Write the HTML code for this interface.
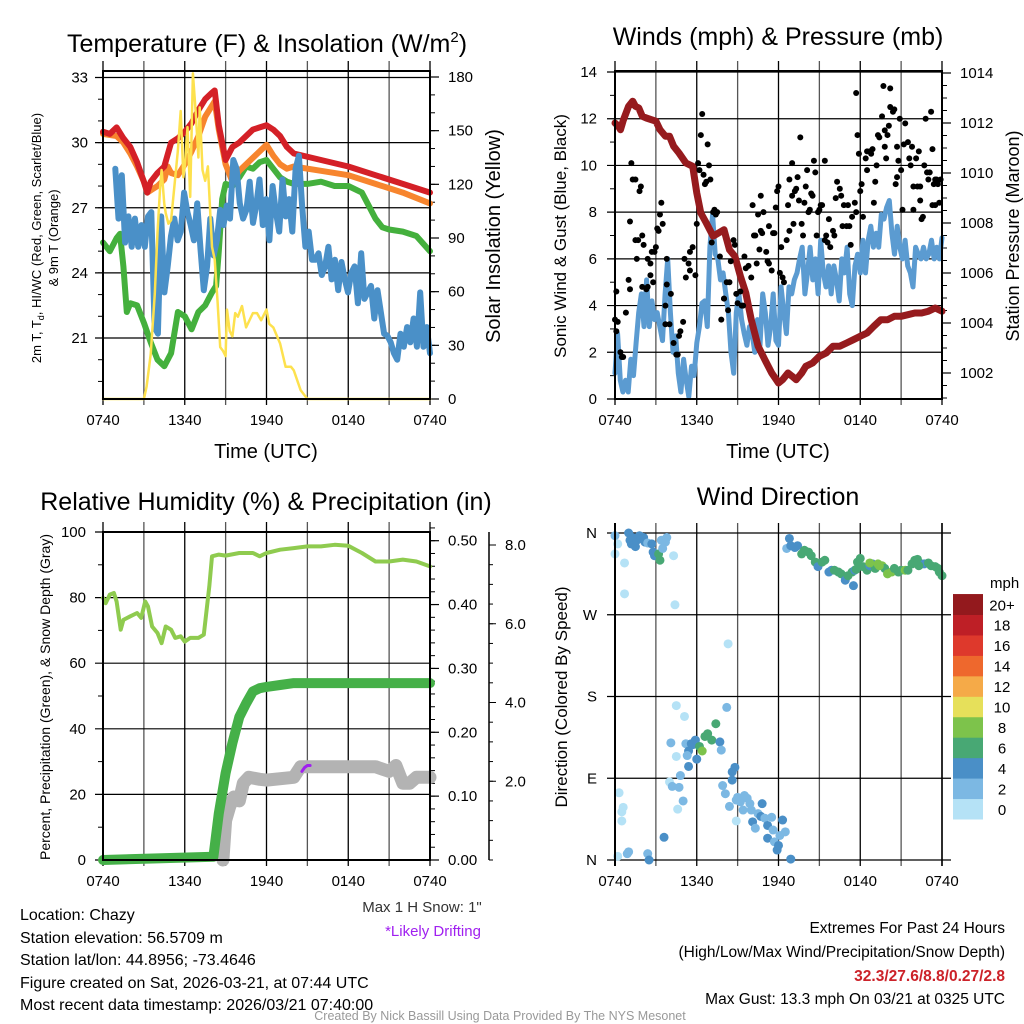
<!DOCTYPE html>
<html><head><meta charset="utf-8"><style>
html,body{margin:0;padding:0;background:#fff;}
svg{display:block;font-family:"Liberation Sans",sans-serif;}
</style></head><body>
<svg id="s" width="1024" height="1024" viewBox="0 0 1024 1024" xmlns="http://www.w3.org/2000/svg">
<rect width="1024" height="1024" fill="#fff"/>
<!-- titles -->
<text x="267" y="52" font-size="25" text-anchor="middle">Temperature (F) &amp; Insolation (W/m<tspan font-size="15" dy="-10">2</tspan><tspan dy="10">)</tspan></text>
<text x="778" y="45" font-size="25" text-anchor="middle">Winds (mph) &amp; Pressure (mb)</text>
<text x="266" y="510" font-size="25" text-anchor="middle">Relative Humidity (%) &amp; Precipitation (in)</text>
<text x="778" y="505" font-size="25" text-anchor="middle">Wind Direction</text>
<!-- axis titles -->
<text x="266" y="458" font-size="20" text-anchor="middle">Time (UTC)</text>
<text x="778" y="458" font-size="20" text-anchor="middle">Time (UTC)</text>
<g font-size="13" text-anchor="middle">
<text transform="translate(41,238) rotate(-90)">2m T, T<tspan font-size="9" dy="3">d</tspan><tspan dy="-3">, HI/WC (Red, Green, Scarlet/Blue)</tspan></text>
<text transform="translate(58,238) rotate(-90)">&amp; 9m T (Orange)</text>
</g>
<text transform="translate(500,236) rotate(-90)" font-size="20" text-anchor="middle">Solar Insolation (Yellow)</text>
<text transform="translate(566,236) rotate(-90)" font-size="17" text-anchor="middle">Sonic Wind &amp; Gust (Blue, Black)</text>
<text transform="translate(1019,236) rotate(-90)" font-size="18" text-anchor="middle">Station Pressure (Maroon)</text>
<text transform="translate(50,697) rotate(-90)" font-size="14" text-anchor="middle">Percent, Precipitation (Green), &amp; Snow Depth (Gray)</text>
<text transform="translate(567,697) rotate(-90)" font-size="17" text-anchor="middle">Direction (Colored By Speed)</text>
<!-- footer texts -->
<g font-size="16">
<text x="20" y="920">Location: Chazy</text>
<text x="20" y="943">Station elevation: 56.5709 m</text>
<text x="20" y="965">Station lat/lon: 44.8956; -73.4646</text>
<text x="20" y="988">Figure created on Sat, 2026-03-21, at 07:44 UTC</text>
<text x="20" y="1010">Most recent data timestamp: 2026/03/21 07:40:00</text>
</g>
<text x="422" y="912" font-size="15" text-anchor="middle" fill="#333">Max 1 H Snow: 1"</text>
<text x="433" y="936" font-size="15" text-anchor="middle" fill="#a020f0">*Likely Drifting</text>
<g font-size="15.5" text-anchor="end">
<text x="1005" y="933">Extremes For Past 24 Hours</text>
<text x="1005" y="957">(High/Low/Max Wind/Precipitation/Snow Depth)</text>
<text x="1005" y="981" fill="#cc2229" font-weight="bold">32.3/27.6/8.8/0.27/2.8</text>
<text x="1005" y="1004">Max Gust: 13.3 mph On 03/21 at 0325 UTC</text>
</g>
<text x="500" y="1020" font-size="12.5" fill="#999" text-anchor="middle">Created By Nick Bassill Using Data Provided By The NYS Mesonet</text>
</svg>
<script>
// ---------- DATA ----------
const xTickLabels = ["0740","1340","1940","0140","0740"];
const tempTicks = [21,24,27,30,33];
const solarTicks = [0,30,60,90,120,150,180];
const windTicks = [0,2,4,6,8,10,12,14];
const presTicks = [1002,1004,1006,1008,1010,1012,1014];
const rhTicks = [0,20,40,60,80,100];
const precipTicks = [0,0.1,0.2,0.3,0.4,0.5];
const snowTicks = [2,4,6,8];
const dirLabels = ["N","E","S","W","N"];
const dirTicks = [0,90,180,270,360];

const redT = [0,0.5,1,1.5,2,2.5,3,3.25,3.5,4,4.5,5,5.5,6,6.5,7,7.5,8,8.2,8.5,9,9.5,10,10.5,11,11.5,12,12.5,13,13.5,14,16,18,20,22,24];
const redV = [30.5,30.4,30.7,30.2,29.8,29.1,28.2,27.7,28.2,28.6,28.9,30,30.2,30.5,30.9,31.5,32,32.3,32.4,30.8,29.2,29.8,30,30.3,30.6,30.7,30.8,30.6,30.3,29.8,29.5,29.2,28.9,28.5,28.1,27.7];
const orgT = [0,1,1.5,2,2.5,3,3.25,3.5,4,4.5,4.75,5,5.5,6,6.5,7,7.5,8,8.2,8.5,9,9.5,10,10.5,11,11.5,12,12.5,13,13.5,14,16,18,20,22,24];
const orgV = [30.4,30.3,30.0,29.5,28.9,28.2,27.7,27.8,28.0,28.3,28.9,28.6,28.5,29.0,29.6,30.3,31.2,31.7,31.9,30.6,29.0,28.2,28.7,29.0,29.3,29.6,29.9,29.4,29.0,28.8,28.9,28.7,28.5,28.1,27.7,27.2];
const grnT = [0,0.5,1,1.25,1.5,1.75,2,2.5,3,3.5,4,4.5,5,5.5,6,6.5,7,7.5,8,8.3,8.5,8.75,9,9.5,10,10.5,11,11.5,12,12.5,13,13.5,14,15,16,17,18,19,19.5,20,20.5,21,22,23,24];
const grnV = [25.4,25.0,25.6,25.8,24.3,22.2,22.6,22.5,21.7,20.8,20.0,19.7,20.3,22.2,22.0,21.4,22.2,22.5,23.1,23.4,25.0,27.4,28.1,28.0,28.4,28.9,28.8,29.1,29.2,28.8,28.4,28.2,28.1,28.1,28.2,28.0,28.0,27.7,27.1,26.5,26.1,26.0,25.9,25.7,25.0];
const hiwcStart = 0.9;
const hiwcV = [28.8,26.5,28.5,25.4,26.6,25.2,26.5,25.2,26.2,25.2,26.6,26.8,21.5,21.2,26.6,23.1,24.3,25.7,26.5,25.5,25.9,27.7,26.8,26.2,25.5,27.2,25.1,23.2,24.3,26.5,24.8,25.5,26.9,26.2,27.1,26.5,29.2,28.8,27.2,26.5,26.9,28.2,26.3,27.1,28.3,26.2,27.4,25.5,28.0,26.8,25.9,28.3,26.6,27.4,25.9,28.8,29.4,27.1,25.2,25.9,24.6,24.6,24.9,23.9,24.3,25.2,23.7,24.6,23.2,24.5,23.7,23.1,24.0,24.3,22.6,24.9,22.8,23.1,23.4,21.9,23.2,22.2,21.2,21.1,20.8,20.3,20.0,21.2,20.6,21.5,20.8,21.9,20.6,23.1,20.6,21.5,20.3];
const solT = [0,3,3.2,3.5,3.8,4,4.2,4.3,4.5,4.6,4.8,5,5.5,5.7,5.9,6,6.2,6.4,6.6,6.8,7,7.1,7.3,7.5,7.7,8,8.2,8.4,8.6,8.8,9,9.1,9.3,9.5,9.7,9.9,10.2,10.5,11,11.3,11.6,12,12.2,12.5,13,13.4,13.8,14,14.5,15,24];
const solV = [0,0,7,25,59,93,119,128,109,104,98,100,139,161,124,130,152,113,182,161,135,163,128,122,130,85,78,55,29,27,24,50,38,35,48,46,52,40,48,48,44,50,42,40,31,18,18,16,5,0,0];

const presT = [0,0.25,0.4,0.6,1,1.3,1.5,1.75,2,2.3,3,3.3,3.7,4,4.3,4.7,5.2,5.7,6,6.3,6.7,7.2,7.6,8,8.4,8.8,9.2,9.6,10,10.5,11,11.5,12,12.3,12.7,13,13.3,13.7,14,14.5,15,15.5,16,16.5,17,17.5,18,18.5,19,19.5,20,20.5,21,21.5,22,22.5,23,23.5,24];
const presV = [1012.0,1011.87,1011.73,1012.1,1012.67,1012.87,1012.67,1012.6,1012.27,1012.2,1012.07,1011.73,1011.47,1011.47,1011.07,1010.8,1010.4,1010.27,1009.2,1008.4,1008.0,1007.47,1007.6,1007.73,1006.93,1006.67,1005.87,1005.2,1004.13,1003.07,1002.53,1002.0,1001.6,1001.73,1002.0,1001.87,1001.73,1002.0,1002.27,1002.4,1002.67,1002.8,1003.07,1003.07,1003.2,1003.33,1003.47,1003.6,1003.87,1004.13,1004.13,1004.27,1004.27,1004.33,1004.4,1004.4,1004.47,1004.6,1004.47];
const sonicV = [1.1,2.8,0.8,0.3,0.8,0.3,1.7,1.0,2.4,3.7,4.5,3.1,5.1,3.1,4.2,3.4,3.7,3.1,2.5,4.5,6.0,3.7,2.0,2.7,1.1,0.3,1.7,0.8,0.1,1.4,1.0,2.4,3.1,4.1,4.2,3.1,6.5,7.9,6.2,6.0,5.1,5.4,4.5,3.7,2.0,1.1,3.7,4.5,3.4,2.8,2.3,3.1,2.8,2.0,3.4,2.3,4.5,3.7,2.3,3.1,4.5,2.5,2.3,4.8,3.7,2.8,4.8,4.5,5.1,5.4,6.0,6.5,4.5,5.4,6.5,5.1,6.0,4.5,6.8,5.4,4.8,5.7,4.5,5.7,5.1,4.2,6.0,5.4,6.5,4.5,4.0,5.7,6.2,5.4,6.8,5.4,6.8,7.4,6.5,7.1,6.5,7.9,7.7,8.2,8.5,7.1,6.2,7.4,6.5,6.0,6.8,5.7,5.4,4.8,6.5,6.2,6.0,6.5,6.0,6.2,6.8,6.0,6.5,6.0,6.9];
const gustT = [0,0.1,0.1,0.2,0.4,0.5,0.6,0.8,1.0,1.1,1.1,1.2,1.3,1.5,1.5,1.6,1.7,1.8,1.9,2.0,2.0,2.1,2.3,2.4,2.4,2.6,2.6,2.7,2.8,2.9,3.0,3.1,3.2,3.3,3.4,3.5,3.7,3.7,3.8,3.8,4.0,4.1,4.3,4.5,4.6,4.7,4.8,5.0,5.1,5.2,5.4,5.5,5.5,5.7,5.9,6.0,6.1,6.2,6.3,6.4,6.5,6.6,6.7,6.8,6.9,7.0,7.1,7.2,7.3,7.4,7.5,7.7,7.8,8.0,8.0,8.2,8.3,8.4,8.5,8.7,8.8,8.9,9.0,9.2,9.3,9.4,9.5,9.6,9.8,10.0,10.1,10.2,10.3,10.4,10.5,10.6,10.7,10.7,10.8,10.9,11.1,11.2,11.3,11.3,11.5,11.6,11.7,11.8,11.9,12.0,12.1,12.2,12.3,12.4,12.6,12.7,12.8,12.8,13.0,13.0,13.1,13.2,13.3,13.4,13.5,13.6,13.7,13.8,13.9,14.0,14.1,14.2,14.3,14.4,14.5,14.6,14.7,14.8,14.9,15.0,15.1,15.2,15.4,15.4,15.5,15.6,15.7,15.8,16.0,16.1,16.2,16.3,16.5,16.6,16.7,16.8,17.0,17.1,17.2,17.3,17.4,17.6,17.7,17.7,17.8,17.9,18.0,18.1,18.2,18.4,18.5,18.5,18.7,18.8,18.9,19.0,19.1,19.2,19.3,19.4,19.6,19.7,19.8,19.8,19.9,20.0,20.1,20.2,20.2,20.4,20.5,20.6,20.7,20.7,20.8,20.9,21.0,21.1,21.2,21.3,21.5,21.6,21.7,21.8,21.9,21.9,22.1,22.2,22.3,22.4,22.4,22.5,22.6,22.7,22.8,22.9,23.0,23.1,23.2,23.3,23.3,23.4,23.5,23.5,23.6,23.7,23.8,23.9];
const gustV = [3.4,2.9,4.6,3.3,2.0,1.8,1.8,3.7,5.1,4.7,7.6,10.1,9.4,9.4,6.8,6.0,6.8,8.9,9.1,4.8,7.0,6.6,4.7,4.8,6.0,5.8,5.3,6.3,5.0,6.3,6.5,7.3,7.2,7.9,8.4,7.5,3.2,4.0,4.9,6.0,3.2,4.5,2.4,1.9,1.9,2.7,2.9,3.3,6.0,5.2,5.8,5.5,6.3,6.5,5.3,7.5,10.1,9.8,11.3,12.2,9.6,9.2,9.3,10.9,10.0,9.4,6.7,8.0,8.1,7.9,8.0,6.1,3.4,4.3,4.3,5.0,3.8,5.0,5.9,6.8,6.6,4.5,4.1,4.6,4.0,4.0,6.1,5.6,5.7,5.2,8.3,7.0,7.0,5.8,7.9,6.4,8.7,7.2,7.1,8.0,6.3,5.9,7.4,5.8,5.5,7.1,7.1,8.2,8.9,9.1,5.4,6.5,5.2,5.0,6.8,8.3,7.2,9.4,10.1,8.7,7.5,8.9,9.0,9.5,8.5,11.2,7.5,7.0,8.4,9.1,9.8,8.0,8.1,8.8,8.7,10.2,9.7,7.0,8.0,8.1,8.3,8.3,10.2,6.8,7.0,6.7,7.7,6.5,7.2,7.0,8.6,9.3,9.0,8.7,7.4,8.3,7.4,8.3,7.4,6.6,7.8,8.4,8.0,13.1,11.3,10.5,8.9,9.2,7.8,10.3,10.6,9.8,10.6,10.5,10.7,8.4,9.3,10.0,11.3,11.2,12.1,13.4,11.5,10.8,10.3,11.3,11.7,13.3,12.5,12.3,12.4,9.2,9.5,10.8,10.2,12.0,9.8,8.1,10.9,11.8,11.0,10.3,10.0,10.8,8.1,9.1,10.3,9.1,10.6,9.1,8.5,7.7,7.8,10.0,12.0,9.7,9.4,9.7,12.3,8.3,10.7,9.2,9.4,8.3,9.4,9.2,8.4,9.4];

const rhT = [0,0.2,0.5,0.8,1,1.3,1.5,2,2.5,2.8,3.1,3.3,3.6,4,4.3,4.6,5,5.3,5.7,6,6.4,7,7.4,7.8,8,8.5,9,10,11,11.5,12,13,14,15,16,17,18,19,20,21,22,23,24];
const rhV = [79.9,78.3,80.9,81.4,78.8,70.2,73.2,74.3,75.3,73.8,78.8,77.3,71.2,69.2,66.1,71.2,70.2,67.7,68.2,66.6,67.7,67.7,68.7,83.4,92.6,93.1,92.8,93.6,93.6,92.6,93.6,94.6,95.1,95.6,95.6,96.1,95.8,93.6,91.0,91.0,91.6,91.0,89.5];
const precipT = [0,8.1,8.5,9,9.5,10,10.5,11,11.5,12,13,14,24];
const precipV = [0,0.005,0.073,0.136,0.183,0.224,0.245,0.264,0.269,0.271,0.274,0.277,0.277];
const snowT = [8.8,9.0,9.3,9.6,10,10.3,10.7,11.5,12,14,14.5,15,20,21,21.5,22,22.5,23,24];
const snowV = [0,1.0,1.36,1.6,1.5,1.95,2.1,2.05,2.03,2.1,2.37,2.37,2.37,2.25,2.4,1.95,1.95,2.1,2.1];
const driftT = [14.6,14.8,15.0,15.2];
const driftV = [2.25,2.35,2.4,2.4];

const dirT = [0,0,0.2,0.7,0.7,1.0,1.1,1.2,1.3,1.5,1.6,1.8,1.9,2.1,2.2,2.4,2.7,2.8,2.9,3.2,3.3,3.4,3.5,3.7,3.8,4.3,4.4,12.6,12.8,12.9,13.2,13.4,13.7,13.9,14.2,14.4,14.7,14.9,15.2,15.4,15.7,15.9,16.1,16.4,16.6,16.9,17.1,17.4,17.5,17.6,17.8,18.0,18.2,18.5,18.7,18.9,19.1,19.3,19.6,19.8,20.0,20.3,20.5,20.8,21.0,21.3,21.5,21.8,22.0,22.2,22.5,22.7,23.0,23.2,23.5,23.7,24.0,23.8,22.3,18.7,19.4,17.7,8.3,4.5,5.1,8.2,4.1,4.5,5.2,5.4,5.6,5.7,5.9,6.2,6.4,6.6,6.8,7.1,7.4,7.7,7.8,6.0,5.4,5.3,4.8,4.0,4.2,4.7,5.0,4.6,3.6,8.8,8.6,8.6,7.9,8.1,8.4,8.9,9.0,9.2,9.4,9.5,9.7,9.9,10.0,10.1,10.3,10.5,10.7,10.8,11.0,11.2,11.2,11.5,11.6,11.7,11.9,12.0,12.1,12.3,12.5,12.9,8.9,0.3,0.5,0.5,0.6,0.2,0.9,1.0,2.4,2.5];
const dirV = [357,337,348,327,293,360,352,348,355,345,352,357,354,355,350,349,348,339,335,337,330,352,343,350,355,335,281,343,354,346,344,346,337,341,339,335,328,323,328,330,317,319,319,317,315,308,313,317,302,319,328,332,323,319,324,326,321,326,324,321,315,317,321,317,319,319,319,326,330,331,326,326,327,324,323,321,313,317,324,327,324,320,238,170,158,168,129,114,128,120,128,127,132,125,120,136,139,132,150,130,121,111,103,115,93,86,81,80,65,56,25,102,97,88,82,73,59,66,69,64,55,71,68,62,55,42,35,51,48,62,46,38,24,47,33,20,11,16,27,44,31,1,43,74,53,43,58,4,7,9,7,0];
const dirSpd = [3,1,1,1,1,5,5,5,5,5,5,5,5,5,5,3,5,5,5,7,7,3,3,3,3,1,1,3,5,5,5,5,7,7,7,7,7,5,7,7,5,5,7,7,7,5,7,7,5,5,7,7,7,7,5,5,7,9,9,7,9,9,7,7,7,9,7,7,7,7,7,5,7,7,7,7,7,7,7,9,9,7,1,1,1,3,3,1,3,5,5,5,5,7,9,7,7,7,7,5,3,5,5,3,3,1,3,3,3,1,5,5,5,5,3,3,3,3,3,3,3,3,3,3,3,5,3,3,5,5,3,5,5,3,3,3,5,5,3,5,3,5,1,1,1,1,1,1,3,3,3,5];
const cbLabels = ["0","2","4","6","8","10","12","14","16","18","20+"];
const cbColors = ["#b5e2f6","#7cb8e3","#4a8fc7","#48a874","#7dc34b","#e6e05a","#f5aa48","#ee682d","#de392c","#be1f26","#93191d"];

// ---------- DRAWING ----------
const NS = "http://www.w3.org/2000/svg";
const svg = document.getElementById("s");
function mk(tag, attrs, parent) {
  const e = document.createElementNS(NS, tag);
  for (const k in attrs) e.setAttribute(k, attrs[k]);
  (parent || svg).appendChild(e);
  return e;
}
function scale(d0, d1, r0, r1) { return v => r0 + (v - d0) / (d1 - d0) * (r1 - r0); }
function pathFrom(ts, vs, sx, sy) {
  return ts.map((t, i) => (i ? "L" : "M") + sx(t).toFixed(1) + "," + sy(vs[i]).toFixed(1)).join("");
}
function uniformTimes(n, t0, t1) { const a = []; for (let i = 0; i < n; i++) a.push(t0 + (t1 - t0) * i / (n - 1)); return a; }

function frame(px0, px1, py0, py1, name) {
  const g = mk("g", {});
  
  
  const sx = scale(0, 24, px0, px1);
  for (let h = 0; h <= 24; h += 3) {
    const ln = mk("line", {x1: sx(h), x2: sx(h), y1: py0 - 10, y2: py1 + 6, stroke: h % 6 ? "#555" : "#000", "stroke-width": 1.3}, g);
    
    
  }
  xTickLabels.forEach((lab, i) => {
    const t = mk("text", {x: sx(i * 6), y: py1 + 26, "font-size": 15, "text-anchor": "middle"}, g);
    
    
    t.textContent = lab;
  });
  return {g, sx};
}
function hgrid(g, ticks, sy, x0, x1, lx, fmt) {
  ticks.forEach(v => {
    const ln = mk("line", {x1: x0, x2: x1, y1: sy(v), y2: sy(v), stroke: "#000", "stroke-width": 1.2}, g);
    
    
    const t = mk("text", {x: lx, y: sy(v) + 5, "font-size": 15, "text-anchor": "end"}, g);
    
    
    t.textContent = fmt ? fmt(v) : v;
  });
}
function rightTicks(g, ticks, sy, x, lx, fmt, minorStep, lo, hi, anchor) {
  for (let v = lo; v <= hi + 1e-9; v += minorStep) {
    mk("line", {x1: x, x2: x + 5, y1: sy(v), y2: sy(v), stroke: "#000", "stroke-width": 1}, g);
  }
  ticks.forEach(v => {
    mk("line", {x1: x, x2: x + 9, y1: sy(v), y2: sy(v), stroke: "#000", "stroke-width": 1.2}, g);
    const t = mk("text", {x: lx, y: sy(v) + 5, "font-size": 15, "text-anchor": anchor || "start"}, g);
    
    
    t.textContent = fmt ? fmt(v) : v;
  });
}
function drawLine(g, ts, vs, sx, sy, color, w, name) {
  const p = mk("path", {d: pathFrom(ts, vs, sx, sy), fill: "none", stroke: color, "stroke-width": w, "stroke-linejoin": "round", "stroke-linecap": "round"}, g);
  
  
  return p;
}

// Panel 1: temperature
(function () {
  const L = 103, R = 430, T = 71, B = 399;
  const {g, sx} = frame(L, R, T, B, "temperature-panel");
  const sy = scale(21, 33, 338, 77.5);
  const sys = scale(0, 180, 399, 77);
  hgrid(g, tempTicks, sy, L - 8, R, 88);
  for (let v = 19; v <= 33; v++) mk("line", {x1: L - 5, x2: L, y1: sy(v), y2: sy(v), stroke: "#000"}, g);
  rightTicks(g, solarTicks, sys, R, 448, null, 10, 0, 180, "start");
  drawLine(g, grnT, grnV, sx, sy, "#44b03d", 6, "dewpoint-line");
  drawLine(g, orgT, orgV, sx, sy, "#f7852e", 6, "temp-9m-line");
  drawLine(g, redT, redV, sx, sy, "#d42027", 6, "temp-2m-line");
  drawLine(g, uniformTimes(hiwcV.length, hiwcStart, 24), hiwcV, sx, sy, "#4a90c8", 6, "hiwc-line");
  drawLine(g, solT, solV, sx, sys, "#fde14e", 2.5, "solar-line");
  const fr = mk("rect", {x: L, y: T, width: R - L, height: B - T, fill: "none", stroke: "#000", "stroke-width": 2}, g);
  
  
})();

// Panel 2: wind & pressure
(function () {
  const L = 615, R = 942, T = 71, B = 399;
  const {g, sx} = frame(L, R, T, B, "wind-panel");
  const sy = scale(0, 14, 399, 72);
  const syp = scale(1002, 1014, 373, 73);
  hgrid(g, windTicks, sy, L - 8, R, 597);
  for (let v = 1; v <= 13; v += 2) mk("line", {x1: L - 5, x2: L, y1: sy(v), y2: sy(v), stroke: "#000"}, g);
  rightTicks(g, presTicks, syp, R, 960, null, 0.5, 1001, 1014, "start");
  drawLine(g, uniformTimes(sonicV.length, 0, 24), sonicV, sx, sy, "#5b9bd1", 5, "sonic-wind-line");
  drawLine(g, presT, presV, sx, syp, "#961b1e", 7, "pressure-line");
  gustT.forEach((t, i) => {
    const c = mk("circle", {cx: sx(t), cy: sy(gustV[i]), r: 3, fill: "#000"}, g);
    
    
  });
  const fr = mk("rect", {x: L, y: T, width: R - L, height: B - T, fill: "none", stroke: "#000", "stroke-width": 2}, g);
  
  
})();

// Panel 3: RH & precip
(function () {
  const L = 103, R = 430, T = 532, B = 860;
  const {g, sx} = frame(L, R, T, B, "humidity-panel");
  const sy = scale(0, 100, 860, 532);
  const syp = scale(0, 0.5, 860, 540.7);
  const sys = scale(0, 8, 860, 545);
  hgrid(g, rhTicks, sy, L - 8, R, 86);
  for (let v = 10; v <= 90; v += 20) mk("line", {x1: L - 5, x2: L, y1: sy(v), y2: sy(v), stroke: "#000"}, g);
  rightTicks(g, precipTicks, syp, R, 448, v => v.toFixed(2), 0.02, 0, 0.52, "start");
  mk("line", {x1: 489, x2: 489, y1: 532, y2: 860, stroke: "#000", "stroke-width": 1.5}, g);
  for (let v = 0; v <= 8.4; v += 0.5) mk("line", {x1: 489, x2: 493, y1: sys(v), y2: sys(v), stroke: "#000"}, g);
  snowTicks.forEach(v => {
    mk("line", {x1: 489, x2: 496, y1: sys(v), y2: sys(v), stroke: "#000"}, g);
    const t = mk("text", {x: 505, y: sys(v) + 5, "font-size": 15}, g);
    
    
    t.textContent = v.toFixed(1);
  });
  drawLine(g, rhT, rhV, sx, sy, "#8fcb4f", 4, "rh-line");
  drawLine(g, snowT, snowV, sx, sys, "#b3b3b3", 13, "snow-depth-line");
  drawLine(g, precipT, precipV, sx, syp, "#45b048", 10, "precip-line");
  drawLine(g, driftT, driftV, sx, sys, "#a020f0", 3, "drifting-line");
  const fr = mk("rect", {x: L, y: T, width: R - L, height: B - T, fill: "none", stroke: "#000", "stroke-width": 2}, g);
  
  
})();

// Panel 4: wind direction
(function () {
  const L = 615, R = 942, T = 533, B = 860;
  const {g, sx} = frame(L, R, T, B, "direction-panel");
  const sy = scale(0, 360, 860, 533);
  dirTicks.forEach((v, i) => {
    const ln = mk("line", {x1: L - 8, x2: R + 9, y1: sy(v), y2: sy(v), stroke: "#000", "stroke-width": 1.2}, g);
    
    
    const t = mk("text", {x: 597, y: sy(v) + 5, "font-size": 15, "text-anchor": "end"}, g);
    
    
    t.textContent = dirLabels[i];
  });
  dirT.forEach((t, i) => {
    const idx = Math.min(10, Math.floor(dirSpd[i] / 2));
    const c = mk("circle", {cx: sx(t), cy: sy(dirV[i]), r: 4.5, fill: cbColors[idx]}, g);
    
    
  });
  mk("line", {x1: L, x2: L, y1: T - 10, y2: B + 6, stroke: "#000", "stroke-width": 2}, g);
  mk("line", {x1: R, x2: R, y1: T - 10, y2: B + 6, stroke: "#000", "stroke-width": 1.5}, g);
  // colorbar
  const cb = mk("g", {});
  
  
  const bh = 20.45, by = 819;
  cbColors.forEach((col, i) => {
    const r = mk("rect", {x: 953, y: by - (i + 1) * bh, width: 30, height: bh + 0.5, fill: col}, cb);
    
    
    const t = mk("text", {x: 1002, y: by - i * bh - bh / 2 + 6, "font-size": 15, "text-anchor": "middle"}, cb);
    
    
    t.textContent = cbLabels[i];
  });
  const u = mk("text", {x: 990, y: 588, "font-size": 15}, cb);
  
  
  u.textContent = "mph";
})();
</script>
</body></html>
